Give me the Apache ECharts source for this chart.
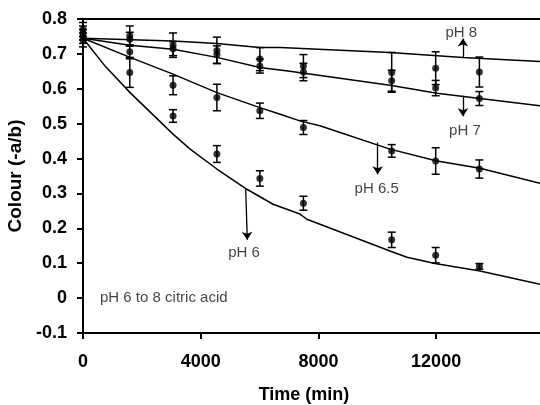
<!DOCTYPE html>
<html><head><meta charset="utf-8">
<script src="https://cdn.jsdelivr.net/npm/echarts@6/dist/echarts.min.js"></script>
<style>html,body{margin:0;padding:0;background:#fff}#c{width:540px;height:405px}</style>
</head><body><div id="c"></div>
<script>
// Measurement times (min)
const times = [0, 1590, 3060, 4550, 6010, 7490, 10490, 11985, 13470];
// Measured colour (-a/b) and error bars
const ph8Mean = [0.770, 0.752, 0.725, 0.710, 0.685, 0.665, 0.647, 0.659, 0.648];
const ph8Err  = [0.020, 0.028, 0.035, 0.038, 0.033, 0.033, 0.057, 0.047, 0.043];
const ph7Mean = [0.760, 0.742, 0.715, 0.698, 0.665, 0.648, 0.623, 0.602, 0.572];
const ph7Err  = [0.020, 0.020, 0.020, 0.025, 0.020, 0.025, 0.030, 0.022, 0.020];
const ph65Mean = [0.750, 0.706, 0.610, 0.575, 0.537, 0.489, 0.422, 0.393, 0.370];
const ph65Err  = [0.020, 0.020, 0.027, 0.038, 0.022, 0.020, 0.018, 0.038, 0.026];
const ph6Mean = [0.740, 0.647, 0.522, 0.413, 0.343, 0.272, 0.167, 0.123, 0.091];
const ph6Err  = [0.020, 0.043, 0.018, 0.024, 0.022, 0.020, 0.022, 0.022, 0.008];

// Model (fitted) curves
const fit8X = [0, 3060, 4550, 6010, 6700, 10430, 12910, 15530];
const fit8Y = [0.745, 0.737, 0.730, 0.718, 0.718, 0.704, 0.690, 0.678];
const fit7X = [0, 1600, 3060, 4550, 6010, 7030, 10430, 12030, 13490, 15530];
const fit7Y = [0.745, 0.725, 0.713, 0.690, 0.661, 0.650, 0.610, 0.587, 0.572, 0.551];
const fit65X = [0, 1600, 3060, 4550, 6010, 6700, 7370, 8050, 10430, 12030, 13490, 15530];
const fit65Y = [0.745, 0.690, 0.642, 0.589, 0.546, 0.527, 0.508, 0.494, 0.427, 0.393, 0.372, 0.329];
const fit6X = [0, 750, 1600, 3060, 3640, 4550, 5570, 6460, 7370, 7610, 10430, 11010, 11960, 13490, 15530];
const fit6Y = [0.745, 0.665, 0.589, 0.470, 0.427, 0.370, 0.312, 0.269, 0.241, 0.226, 0.135, 0.117, 0.099, 0.078, 0.040];

// Annotations
const annoLabels = ['pH 8', 'pH 7', 'pH 6.5', 'pH 6'];
const annoText = [[12855, 0.761], [12980, 0.479], [9980, 0.312], [5471, 0.129]];
const annoArrows = [
  [[12912, 0.689], [12912, 0.744]],
  [[12912, 0.580], [12912, 0.521]],
  [[10014, 0.446], [10014, 0.355]],
  [[5529, 0.314], [5583, 0.167]]
];
const noteText = 'pH 6 to 8 citric acid';
const notePos = [578, 0.0];

const xTicks = [0, 4000, 8000, 12000];
const yMin = -0.1, yMax = 0.8, yStep = 0.1;
const xMin = 0, xMax = 15530, xStep = 4000;

const FONT = 'Liberation Sans, Arial, sans-serif';

function zip(a, b) { return a.map((v, i) => [v, b[i]]); }

function errSeries(means, errs) {
  return {
    type: 'custom',
    z: 3,
    renderItem: function (params, api) {
      const x = api.value(0), lo = api.value(1), hi = api.value(2);
      const p1 = api.coord([x, hi]);
      const p2 = api.coord([x, lo]);
      const w = 4;
      const st = { stroke: '#000', lineWidth: 1.5 };
      return {
        type: 'group',
        children: [
          { type: 'line', shape: { x1: p1[0], y1: p1[1], x2: p2[0], y2: p2[1] }, style: st },
          { type: 'line', shape: { x1: p1[0] - w, y1: p1[1], x2: p1[0] + w, y2: p1[1] }, style: st },
          { type: 'line', shape: { x1: p2[0] - w, y1: p2[1], x2: p2[0] + w, y2: p2[1] }, style: st }
        ]
      };
    },
    encode: { x: 0, y: [1, 2] },
    data: times.map((t, i) => [t, means[i] - errs[i], means[i] + errs[i]])
  };
}

function scatterSeries(means) {
  return {
    type: 'scatter', symbol: 'circle', symbolSize: 7, z: 4,
    itemStyle: { color: '#000' },
    data: zip(times, means)
  };
}

function fitSeries(xs, ys) {
  return {
    type: 'line', showSymbol: false, symbol: 'none', z: 2,
    lineStyle: { color: '#000', width: 1.5 },
    data: zip(xs, ys)
  };
}

const series = [
  fitSeries(fit8X, fit8Y), fitSeries(fit7X, fit7Y), fitSeries(fit65X, fit65Y), fitSeries(fit6X, fit6Y),
  errSeries(ph8Mean, ph8Err), errSeries(ph7Mean, ph7Err), errSeries(ph65Mean, ph65Err), errSeries(ph6Mean, ph6Err),
  scatterSeries(ph8Mean), scatterSeries(ph7Mean), scatterSeries(ph65Mean), scatterSeries(ph6Mean),
  {
    type: 'lines', coordinateSystem: 'cartesian2d', z: 5,
    symbol: ['none', 'arrow'], symbolSize: 8,
    lineStyle: { color: '#000', width: 1.3, opacity: 1 },
    data: annoArrows.map(c => ({ coords: c }))
  },
  {
    type: 'scatter', symbolSize: 0, z: 6, silent: true,
    label: { show: true, position: 'inside', formatter: '{b}', color: '#111', fontSize: 15, fontFamily: FONT },
    data: annoLabels.map((n, i) => ({ name: n, value: annoText[i] }))
  },
  {
    type: 'scatter', symbolSize: 0, z: 6, silent: true,
    label: { show: true, position: 'right', distance: 0, formatter: '{b}', color: '#111', fontSize: 15, fontFamily: FONT },
    data: [{ name: noteText, value: notePos }]
  }
];

const chart = echarts.init(document.getElementById('c'), null, { renderer: 'canvas' });
chart.setOption({
  animation: false,
  backgroundColor: '#fff',
  grid: { left: 83, top: 19, right: 0, bottom: 72, containLabel: false, outerBoundsMode: 'none' },
  xAxis: [{
    type: 'value', min: xMin, max: xMax, interval: xStep,
    name: 'Time (min)', nameLocation: 'middle', nameGap: 53,
    nameTextStyle: { fontSize: 18, fontWeight: 'bold', color: '#000', fontFamily: FONT, padding: [0, 15, 0, 0] },
    axisLine: { show: true, onZero: false, lineStyle: { color: '#000', width: 2 } },
    axisTick: { show: true, length: 6, lineStyle: { color: '#000', width: 2 } },
    axisLabel: {
      margin: 20, fontSize: 18, fontWeight: 'bold', color: '#000', fontFamily: FONT,
      showMaxLabel: false,
      formatter: v => (xTicks.indexOf(v) >= 0 ? String(v) : '')
    },
    splitLine: { show: false }
  }, {
    type: 'value', position: 'top', min: xMin, max: xMax,
    axisLine: { show: true, onZero: false, lineStyle: { color: '#000', width: 2 } },
    axisTick: { show: false }, axisLabel: { show: false }, splitLine: { show: false }
  }],
  yAxis: {
    type: 'value', min: yMin, max: yMax, interval: yStep,
    name: 'Colour (-a/b)', nameLocation: 'middle', nameGap: 55,
    nameTextStyle: { fontSize: 19, fontWeight: 'bold', color: '#000', fontFamily: FONT },
    axisLine: { show: true, onZero: false, lineStyle: { color: '#000', width: 2 } },
    axisTick: { show: true, length: 6, lineStyle: { color: '#000', width: 2 } },
    axisLabel: {
      margin: 16, fontSize: 18, fontWeight: 'bold', color: '#000', fontFamily: FONT,
      formatter: v => (Math.abs(v) < 1e-9 ? '0' : (Math.round(v * 10) / 10).toFixed(1))
    },
    splitLine: { show: false }
  },
  series: series
});
</script>
</body></html>
